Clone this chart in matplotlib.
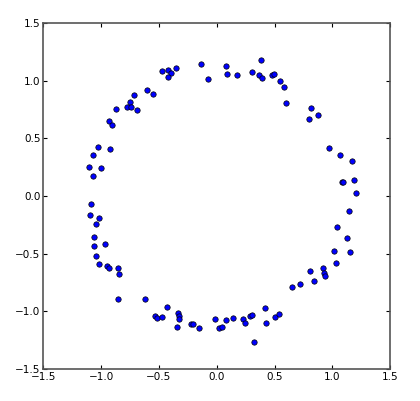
import matplotlib
matplotlib.use("Agg")
import matplotlib.pyplot as plt

# points (noisy ring of radius ~1.1)
x_vals = [
    -0.132, -0.072, -0.350, -0.474, -0.419, -0.397, -0.419, -0.600, -0.552, -0.712,
    -0.753, -0.772, -0.741, -0.692, -0.867, -0.931, -0.905, -1.028, -1.066, -0.925,
    -1.106, -1.003, -1.072,
    0.078, 0.086, 0.172, 0.308, 0.383, 0.362, 0.394, 0.480, 0.497, 0.547,
    0.584, 0.601, 0.814, 0.802, 0.874, 0.974, 1.069, 1.167, 1.081, 1.095,
    1.184, 1.202,
    -1.083, -1.095, -1.022, -1.048, -1.063, -0.968, -1.060, -1.048, -1.020, -0.953,
    -0.928, -0.853, -0.841, -0.853, -0.621, -0.428, -0.531, -0.520, -0.471, -0.336,
    -0.324, -0.328, -0.341, -0.221, -0.203, -0.152, -0.014, 0.021,
    0.049, 0.078, 0.144, 0.230, 0.245, 0.291, 0.305, 0.319, 0.420, 0.422,
    0.500, 0.541, 0.647, 0.716, 0.805, 0.840, 0.920, 0.931, 0.940, 1.015,
    1.035, 1.124, 1.155, 1.040, 1.144,
]
y_vals = [
    1.148, 1.015, 1.116, 1.087, 1.095, 1.069, 1.032, 0.919, 0.885, 0.876,
    0.818, 0.775, 0.769, 0.743, 0.760, 0.653, 0.616, 0.422, 0.358, 0.408,
    0.252, 0.243, 0.171,
    1.125, 1.058, 1.047, 1.073, 1.177, 1.047, 1.021, 1.047, 1.058, 0.995,
    0.943, 0.809, 0.766, 0.668, 0.708, 0.419, 0.358, 0.306, 0.124, 0.121,
    0.139, 0.023,
    -0.067, -0.165, -0.188, -0.243, -0.356, -0.416, -0.437, -0.520, -0.593, -0.607,
    -0.622, -0.622, -0.679, -0.896, -0.891, -0.966, -1.038, -1.058, -1.049, -1.012,
    -1.038, -1.067, -1.134, -1.113, -1.107, -1.145, -1.064, -1.148,
    -1.133, -1.073, -1.055, -1.064, -1.101, -1.044, -1.035, -1.266, -0.974, -1.101,
    -1.049, -1.026, -0.792, -0.760, -0.648, -0.737, -0.624, -0.668, -0.694, -0.474,
    -0.584, -0.367, -0.489, -0.266, -0.130,
]
ticks = [-1.5, -1.0, -0.5, 0.0, 0.5, 1.0, 1.5]

fig = plt.figure(figsize=(4.2, 4.01), dpi=100)
ax = fig.add_axes([0.103, 0.080, 0.826, 0.862])

ax.scatter(x_vals, y_vals, s=15, c="#0000ff", edgecolors="black", linewidths=0.5, zorder=3)

ax.set_xlim(-1.5, 1.5)
ax.set_ylim(-1.5, 1.5)
ax.set_xticks(ticks)
ax.set_yticks(ticks)
ax.tick_params(direction="in", length=3, width=0.8, top=True, right=True,
               labelsize=7.5, pad=2)
for sp in ax.spines.values():
    sp.set_color("#555555")
    sp.set_linewidth(1.2)

fig.savefig("out.png", dpi=100)
